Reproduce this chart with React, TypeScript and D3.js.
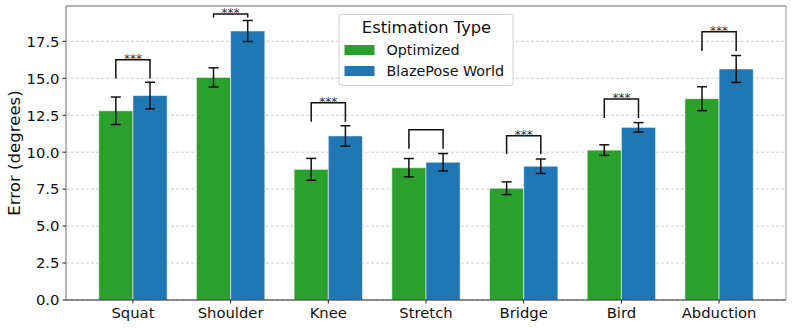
import { scaleLinear, range } from "d3";

let categories = ["Squat", "Shoulder", "Knee", "Stretch", "Bridge", "Bird", "Abduction"];

let optimized = [12.8, 15.06, 8.84, 8.95, 7.56, 10.14, 13.62];
let optimizedErr = [0.93, 0.65, 0.74, 0.62, 0.43, 0.36, 0.81];

let blazePose = [13.83, 18.2, 11.1, 9.32, 9.05, 11.68, 15.63];
let blazePoseErr = [0.9, 0.71, 0.69, 0.59, 0.49, 0.32, 0.91];

let bracketLow = [14.98, 19.12, 12.06, 10.24, 9.88, 12.31, 16.85];
let bracketHigh = [16.26, 19.35, 13.35, 11.52, 11.12, 13.6, 18.15];
let significance = ["***", "***", "***", "", "***", "***", "***"];

let yTicks = [0, 2.5, 5, 7.5, 10, 12.5, 15, 17.5];

let seriesNames = ["Optimized", "BlazePose World"];
let seriesColors = ["#2ca02c", "#1f77b4"];

let width = 793;
let height = 328;
let margin = { top: 6, right: 7, bottom: 28, left: 66 };
let barWidth = 0.35;
let font = "DejaVu Sans, sans-serif";

let ErrorBar = ({ x, yTop, yBottom }) => (
	<g stroke="#111" strokeWidth={1.5}>
		<line x1={x} x2={x} y1={yTop} y2={yBottom} />
		<line x1={x - 5} x2={x + 5} y1={yTop} y2={yTop} />
		<line x1={x - 5} x2={x + 5} y1={yBottom} y2={yBottom} />
	</g>
);

let Legend = ({ x, y }) => (
	<g transform={`translate(${x},${y})`} fontFamily={font}>
		<rect
			x={0.5}
			y={0.5}
			width={174}
			height={71}
			rx={3}
			fill="#fff"
			fillOpacity={0.85}
			stroke="#d0d0d0"
		/>
		<text x={88} y={19} textAnchor="middle" fontSize={16.3} fill="#111">
			Estimation Type
		</text>
		{seriesNames.map((name, i) => (
			<g key={name} transform={`translate(0,${31 + i * 21})`}>
				<rect x={6} y={0} width={30} height={10} fill={seriesColors[i]} />
				<text x={48} y={9.5} fontSize={14.3} fill="#111">
					{name}
				</text>
			</g>
		))}
	</g>
);

export default function App() {
	let innerLeft = margin.left;
	let innerRight = width - margin.right;
	let innerTop = margin.top;
	let innerBottom = height - margin.bottom;

	let xScale = scaleLinear()
		.domain([-0.685, categories.length - 1 + 0.685])
		.range([innerLeft, innerRight]);

	let yScale = scaleLinear().domain([0, 19.89]).range([innerBottom, innerTop]);

	let series = [
		{ values: optimized, errs: optimizedErr, offset: -barWidth },
		{ values: blazePose, errs: blazePoseErr, offset: 0 },
	];

	return (
		<svg
			width={width}
			height={height}
			style={{ position: "absolute", left: 0, top: 0 }}
			fontFamily={font}
		>
			<rect width={width} height={height} fill="#fff" />

			{/* grid */}
			<g>
				{yTicks.map((t) => (
					<line
						key={t}
						x1={innerLeft}
						x2={innerRight}
						y1={yScale(t)}
						y2={yScale(t)}
						stroke="#c4c4c4"
						strokeWidth={0.8}
						strokeDasharray="3,2"
					/>
				))}
			</g>

			{/* bars */}
			{series.map((s, si) =>
				categories.map((c, i) => (
					<rect
						key={`${si}-${c}`}
						x={xScale(i + s.offset)}
						y={yScale(s.values[i])}
						width={xScale(barWidth) - xScale(0)}
						height={yScale(0) - yScale(s.values[i])}
						fill={seriesColors[si]}
						stroke="#fff"
						strokeOpacity={0.55}
						strokeWidth={1}
					/>
				))
			)}

			{/* error bars */}
			{series.map((s, si) =>
				categories.map((c, i) => (
					<ErrorBar
						key={`e-${si}-${c}`}
						x={xScale(i + s.offset + barWidth / 2)}
						yTop={yScale(s.values[i] + s.errs[i])}
						yBottom={yScale(s.values[i] - s.errs[i])}
					/>
				))
			)}

			{/* significance brackets */}
			{categories.map((c, i) => {
				let x1 = xScale(i - barWidth / 2);
				let x2 = xScale(i + barWidth / 2);
				let yLow = yScale(bracketLow[i]);
				let yHigh = yScale(bracketHigh[i]);
				return (
					<g key={`b-${c}`}>
						<path
							d={`M${x1},${yLow}V${yHigh}H${x2}V${yLow}`}
							fill="none"
							stroke="#111"
							strokeWidth={1.5}
						/>
						{significance[i] && (
							<text
								x={xScale(i)}
								y={yHigh + 3}
								textAnchor="middle"
								fontSize={12}
								fill="#333"
							>
								{significance[i]}
							</text>
						)}
					</g>
				);
			})}

			{/* spines */}
			<line x1={innerLeft} x2={innerLeft} y1={innerTop} y2={innerBottom} stroke="#888" strokeWidth={1.2} />
			<line x1={innerRight} x2={innerRight} y1={innerTop} y2={innerBottom} stroke="#aaa" strokeWidth={1.2} />
			<line x1={innerLeft} x2={innerRight} y1={innerTop} y2={innerTop} stroke="#666" strokeWidth={1.2} />
			<line x1={innerLeft} x2={innerRight} y1={innerBottom} y2={innerBottom} stroke="#222" strokeWidth={1.2} />

			{/* y axis */}
			<g>
				{yTicks.map((t) => (
					<g key={t} transform={`translate(0,${yScale(t)})`}>
						<line x1={innerLeft - 3.5} x2={innerLeft} stroke="#222" strokeWidth={1} />
						<text
							x={innerLeft - 6.5}
							dy="0.36em"
							textAnchor="end"
							fontSize={14.8}
							fill="#111"
						>
							{t.toFixed(1)}
						</text>
					</g>
				))}
			</g>
			<text
				transform={`translate(20,${(innerTop + innerBottom) / 2}) rotate(-90)`}
				textAnchor="middle"
				fontSize={16.6}
				fill="#111"
			>
				Error (degrees)
			</text>

			{/* x axis */}
			<g>
				{range(categories.length).map((i) => (
					<g key={i} transform={`translate(${xScale(i)},${innerBottom})`}>
						<line y1={0} y2={3.5} stroke="#222" strokeWidth={1} />
						<text y={18} textAnchor="middle" fontSize={14.8} fill="#111">
							{categories[i]}
						</text>
					</g>
				))}
			</g>

			<Legend x={338.5} y={14} />
		</svg>
	);
}
